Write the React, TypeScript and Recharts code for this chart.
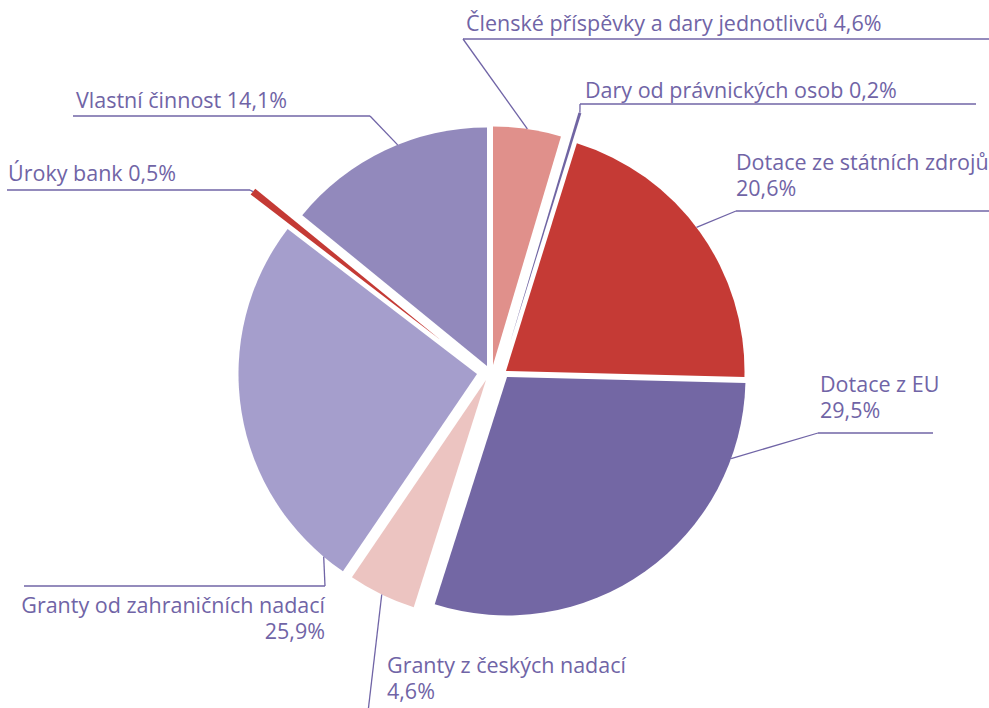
import { PieChart, Pie, Cell } from "recharts";

const categories = [
  "Členské příspěvky a dary jednotlivců",
  "Dary od právnických osob",
  "Dotace ze státních zdrojů",
  "Dotace z EU",
  "Granty z českých nadací",
  "Granty od zahraničních nadací",
  "Úroky bank",
  "Vlastní činnost",
];
const shares = [4.6, 0.2, 20.6, 29.5, 4.6, 25.9, 0.5, 14.1];
const colors = ["#e0908b", "#7065a3", "#c53a35", "#7367a4", "#ecc4c1", "#a59ecc", "#c43a35", "#9289bc"];
// pull-out of each slice from the common centre (dx, dy in px)
const pulls = [
  [0, -7],
  [17.5, -31],
  [13, -1],
  [14, 5],
  [-7, 8],
  [-16, 2],
  [-53, -32.5],
  [-6, -6],
];

const data = categories.map((name, i) => ({ name, value: shares[i] }));

const CX = 493;
const CY = 372;
const R = 238.5;
const RAD = Math.PI / 180;
const TEXT = "#7064a6";

const fmt = (v: number) => v.toFixed(1).replace(".", ",") + "%";

// mid angle of each slice (deg, ccw from 3 o'clock), as the pie lays it out
const total = shares.reduce((a, b) => a + b, 0);
const mids: number[] = [];
shares.reduce((acc, v) => {
  mids.push(90 - (360 * (acc + v / 2)) / total);
  return acc + v;
}, 0);

type Spec = {
  split: boolean;
  x: number;
  y: number;
  anchor: "start" | "end";
  lineY: number;
  lineFrom: number;
  lineTo: number;
  hookX: number;
  touch?: number; // clockwise deg from top where the leader meets the arc
};

const layout: Spec[] = [
  { split: false, x: 466, y: 31, anchor: "start", lineY: 39, lineFrom: 463, lineTo: 989, hookX: 463 },
  { split: false, x: 585, y: 98, anchor: "start", lineY: 104, lineFrom: 580, lineTo: 976, hookX: 580 },
  { split: true, x: 736, y: 170, anchor: "start", lineY: 211, lineFrom: 736, lineTo: 989, hookX: 736, touch: 53 },
  { split: true, x: 820, y: 392, anchor: "start", lineY: 433, lineFrom: 818, lineTo: 933, hookX: 818, touch: 110 },
  { split: true, x: 387, y: 673, anchor: "start", lineY: 712, lineFrom: 368, lineTo: 660, hookX: 368 },
  { split: true, x: 325, y: 613, anchor: "end", lineY: 586, lineFrom: 24, lineTo: 325, hookX: 325, touch: 220 },
  { split: false, x: 8, y: 181, anchor: "start", lineY: 190, lineFrom: 7, lineTo: 250, hookX: 250 },
  { split: false, x: 76, y: 108, anchor: "start", lineY: 116, lineFrom: 73, lineTo: 370, hookX: 370, touch: 338 },
];

const center = (k: number) => ({ x: CX + pulls[k][0], y: CY + pulls[k][1] });

const makeLabel = (k: number) => (props: any) => {
  if (props.index !== k) return null;
  const s = layout[k];
  const c = center(k);
  const a = s.touch != null ? 90 - s.touch : mids[k];
  const tx = c.x + R * Math.cos(-a * RAD);
  const ty = c.y + R * Math.sin(-a * RAD);
  const lines = s.split ? [categories[k], fmt(shares[k])] : [`${categories[k]} ${fmt(shares[k])}`];
  return (
    <g>
      <line x1={s.lineFrom} y1={s.lineY} x2={s.lineTo} y2={s.lineY} stroke={TEXT} strokeWidth={1.3} />
      <line x1={s.hookX} y1={s.lineY} x2={tx} y2={ty} stroke={TEXT} strokeWidth={1.3} />
      {lines.map((t, i) => (
        <text
          key={i}
          x={s.x}
          y={s.y + i * 26}
          textAnchor={s.anchor}
          fill={TEXT}
          fontSize={21.5}
          fontFamily="Open Sans"
        >
          {t}
        </text>
      ))}
    </g>
  );
};

export default function App() {
  return (
    <div style={{ position: "absolute", left: 0, top: 0, background: "#fff" }}>
      <PieChart width={989} height={708} margin={{ top: 0, right: 0, bottom: 0, left: 0 }}>
        {categories.map((_, k) => {
          const c = center(k);
          return (
            <Pie
              key={k}
              data={data}
              dataKey="value"
              cx={c.x}
              cy={c.y}
              outerRadius={R}
              startAngle={90}
              endAngle={-270}
              stroke="none"
              label={makeLabel(k)}
              labelLine={false}
              isAnimationActive={false}
            >
              {data.map((_, i) => (
                <Cell key={i} fill={i === k ? colors[i] : "none"} />
              ))}
            </Pie>
          );
        })}
      </PieChart>
    </div>
  );
}
